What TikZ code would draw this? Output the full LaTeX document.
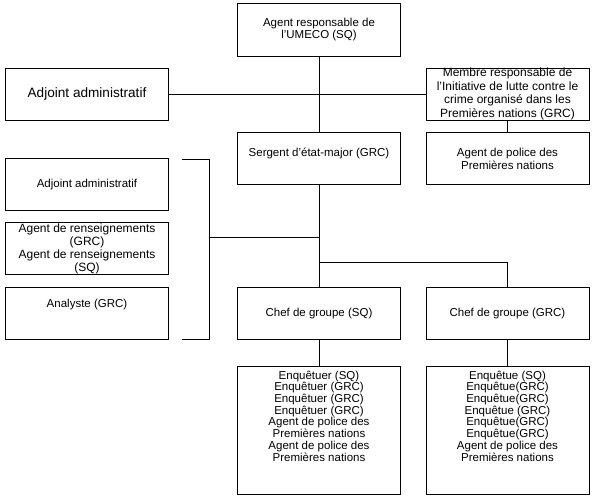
\documentclass[tikz,border=0pt]{standalone}
\usepackage{fontspec}
\setmainfont{Liberation Sans}
\usetikzlibrary{positioning}

\begin{document}
\begin{tikzpicture}[x=1pt,y=-1pt,
    box/.style={draw, line width=0.8pt, minimum width=163pt, minimum height=52pt,
        inner sep=0pt, align=center, font=\fontsize{11.5}{11.7}\selectfont},
    txt/.style={inner sep=0pt, align=center, font=\fontsize{11.5}{11.7}\selectfont},
    wire/.style={line width=0.8pt}]
    \useasboundingbox (0,0) rectangle (595,499);

    \node[box, minimum height=53pt] (umeco) at (319,29.5) {Agent responsable de\\l'UMECO (SQ)};
    \node[box, font=\fontsize{13.6}{15}\selectfont] (adjl) at (87,94) {Adjoint administratif};
    \node[box, font=\fontsize{12}{13.6}\selectfont] (membre) at (507.5,94)
        {Membre responsable de\\l'Initiative de lutte contre le\\crime organisé dans les\\Premières nations (GRC)};
    \node[box] (sergent) at (319,158.5) {};
    \node[txt] (sergenttxt) at (319,153) {Sergent d'état-major (GRC)};
    \node[box, font=\fontsize{11.5}{13}\selectfont] (police) at (507.5,158.5) {Agent de police des\\Premières nations};

    \node[box] (adjs) at (87,184.5) {Adjoint administratif};
    \node[box, font=\fontsize{12}{13}\selectfont] (rens) at (87,248.5)
        {Agent de renseignements\\(GRC)\\Agent de renseignements\\(SQ)};
    \node[box] (analyste) at (87,313.5) {};
    \node[txt] (analystetxt) at (87,305) {Analyste (GRC)};

    \node[box] (chefsq) at (319,313.5) {Chef de groupe (SQ)};
    \node[box] (chefgrc) at (507.5,313.5) {Chef de groupe (GRC)};

    \node[box, minimum height=128pt] (enqsq) at (319,430) {};
    \node[txt] (enqsqtxt) at (319,416)
        {Enquêtuer (SQ)\\Enquêtuer (GRC)\\Enquêtuer (GRC)\\Enquêtuer (GRC)\\Agent de police des\\Premières nations\\Agent de police des\\Premières nations};
    \node[box, minimum height=128pt] (enqgrc) at (507.5,430) {};
    \node[txt] (enqgrctxt) at (507.5,416)
        {Enquêtue (SQ)\\Enquêtue(GRC)\\Enquêtue(GRC)\\Enquêtue (GRC)\\Enquêtue(GRC)\\Enquêtue(GRC)\\Agent de police des\\Premières nations};

    \coordinate (b1) at (182,159);
    \coordinate (b2) at (209,159);
    \coordinate (b3) at (209,339);
    \coordinate (b4) at (182,339);
    \coordinate (bj) at (209,237);
    \coordinate (split) at (319,262);

    \draw[wire] (umeco) -- (sergent);
    \draw[wire] (adjl) -- (membre);
    \draw[wire] (membre) -- (police);
    \draw[wire] (sergent) -- (chefsq);
    \draw[wire] (b1) -- (b2) -- (b3) -- (b4);
    \draw[wire] (bj) -- (bj -| sergent.south);
    \draw[wire] (split) -| (chefgrc);
    \draw[wire] (chefsq) -- (enqsq);
    \draw[wire] (chefgrc) -- (enqgrc);
\end{tikzpicture}
\end{document}
